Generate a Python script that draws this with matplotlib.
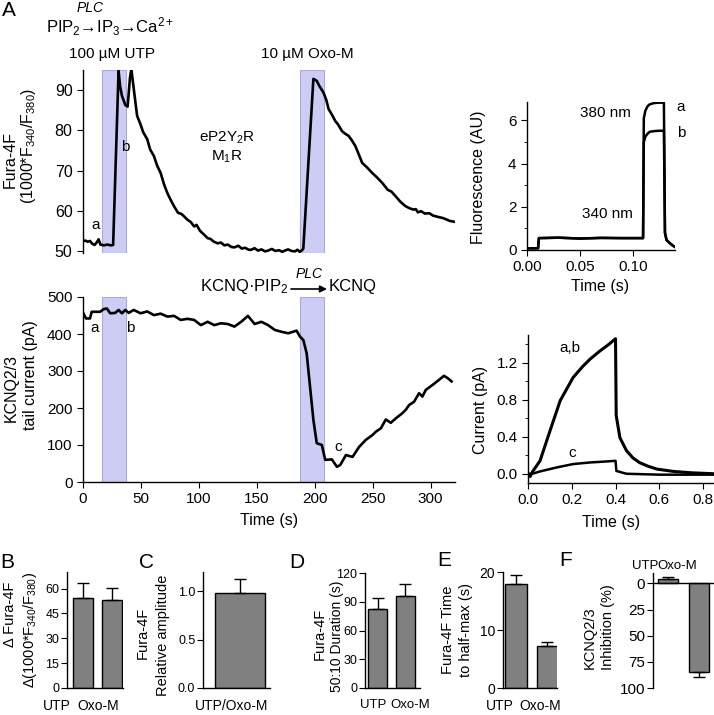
import matplotlib
matplotlib.use('Agg')
import matplotlib.pyplot as plt
import matplotlib.transforms as mtransforms
from matplotlib.ticker import MultipleLocator

plt.rcParams['font.family'] = ['Liberation Sans', 'DejaVu Sans']
plt.rcParams['mathtext.fontset'] = 'custom'
plt.rcParams['mathtext.rm'] = 'Liberation Sans'
plt.rcParams['mathtext.it'] = 'Liberation Sans:italic'
plt.rcParams['axes.linewidth'] = 1.0
plt.rcParams['xtick.major.size'] = 4
plt.rcParams['ytick.major.size'] = 4
plt.rcParams['xtick.minor.size'] = 2.5
plt.rcParams['ytick.minor.size'] = 2.5

W, H = 714, 715

# --- A: Fura-4F ratio over time (s)
fura_t = [0, 2, 4, 6, 8, 10, 12, 13.5, 15, 18, 21, 24, 26, 30.7, 32, 33.6, 36.5, 38.5, 40.5,
          41.7, 43.8, 46.7, 49.6, 52, 55.4, 58, 61.2, 64, 67, 70, 72.8, 76, 78.6, 82, 85,
          87.2, 90, 93, 95.9, 98, 101, 104, 107.5, 110, 113, 116.2, 119, 122, 125, 128,
          130.7, 134, 137, 140, 143, 145.2, 148, 151, 154, 157, 159.7, 163, 166, 169, 172,
          174.2, 177, 180, 182.9, 185, 187, 188.7, 190.1, 198.8, 201.7, 204, 207.5, 210,
          211.9, 215, 217.7, 220, 223.5, 226, 229.3, 232, 235, 238, 240.9, 245, 249.6, 254,
          258.3, 263, 266, 269.8, 274, 278.5, 282, 285, 287.2, 289, 291.6, 295, 298.8, 302,
          306, 310.4, 314, 316.2, 320]
fura_v = [52.4, 52.6, 52.3, 52.5, 51.8, 51.5, 52.2, 52.9, 51.6, 51.4, 51.6, 51.4, 51.5, 94.8,
          91.0, 88.6, 86.3, 85.9, 93.0, 95.3, 90.3, 83.6, 81.5, 79.5, 77.8, 75.2, 73.6, 71.2,
          69.4, 66.5, 64.4, 62.5, 61.1, 59.5, 59.2, 58.6, 57.8, 57.2, 56.1, 56.5, 55.0, 54.2,
          53.2, 53.0, 52.3, 51.9, 52.1, 51.4, 51.6, 51.0, 50.9, 51.3, 50.6, 50.8, 50.3, 50.3,
          50.7, 50.1, 50.4, 49.9, 50.1, 50.5, 50.0, 50.2, 49.8, 50.1, 50.4, 50.0, 49.9, 50.3,
          49.8, 50.1, 50.6, 92.8, 92.3, 91.0, 89.4, 87.5, 85.3, 83.8, 82.3, 81.5, 79.8, 79.2,
          78.6, 77.5, 76.1, 74.0, 71.9, 70.8, 69.4, 68.2, 66.9, 65.2, 64.8, 63.6, 62.2, 61.1,
          60.6, 60.3, 60.4, 59.6, 59.9, 59.3, 59.4, 58.8, 58.5, 58.2, 57.8, 57.5, 57.3]

# --- A: KCNQ2/3 tail current (pA) over time (s)
kcnq_t = [0.3, 2.6, 6, 7.5, 14.8, 17.7, 20.6, 23.5, 27.8, 30.7, 33.6, 36.5, 39.4, 43.8, 49.6,
          55.4, 61.2, 67, 72.8, 78.6, 84.3, 90.1, 95.9, 101.7, 107.5, 113.3, 119.1, 124.9,
          130.7, 136.5, 142.3, 148.1, 153.9, 159.7, 165.5, 171.3, 177.1, 184.3, 187.2, 190.1,
          193, 195.9, 198.8, 201.7, 206.1, 209, 214.8, 219.1, 222, 226.9, 230, 232.6, 238.3,
          244.1, 249.8, 252.7, 257, 261.3, 265.6, 269.9, 275.6, 278.5, 281.4, 285.7, 290,
          292.9, 295.8, 301.5, 307.2, 311.5, 315, 318]
kcnq_v = [456, 442, 442, 460, 460, 467, 469, 456, 457, 465, 456, 465, 457, 465, 456, 461, 451,
          455, 447, 449, 438, 441, 438, 424, 433, 424, 429, 427, 420, 433, 449, 427, 433, 424,
          411, 406, 402, 409, 393, 384, 348, 258, 168, 105, 100, 60, 61, 41, 46, 73, 70, 68, 95,
          114, 127, 136, 145, 169, 160, 172, 186, 195, 208, 217, 240, 231, 249, 262, 276, 287,
          280, 272]

# drug application windows (s)
utp_win = (16.5, 37)
oxo_win = (187, 208)

# --- A right: fluorescence at 340/380 nm, traces a and b
fl_t = [0.0, 0.0105, 0.0112, 0.03, 0.05, 0.07, 0.09, 0.1098, 0.1105, 0.112, 0.114, 0.116,
        0.120, 0.125, 0.1295, 0.1305, 0.132, 0.135, 0.138, 0.140]
fl_a = [0.08, 0.08, 0.55, 0.57, 0.53, 0.56, 0.55, 0.55, 6.1, 6.45, 6.65, 6.74, 6.8, 6.82,
        6.82, 0.8, 0.46, 0.32, 0.2, 0.14]
fl_b = [0.08, 0.08, 0.55, 0.57, 0.53, 0.56, 0.55, 0.55, 5.0, 5.25, 5.38, 5.47, 5.5, 5.52,
        5.52, 0.8, 0.46, 0.32, 0.2, 0.14]

# --- A right: KCNQ current traces a,b and c
cur_t_ab = [0, 0.01, 0.02, 0.055, 0.1, 0.147, 0.206, 0.25, 0.284, 0.33, 0.37, 0.4, 0.403,
            0.42, 0.45, 0.48, 0.51, 0.55, 0.59, 0.665, 0.75, 0.85]
cur_ab = [0.0, -0.03, 0.02, 0.14, 0.46, 0.79, 1.04, 1.16, 1.24, 1.33, 1.4, 1.46, 0.63, 0.39,
          0.25, 0.17, 0.12, 0.08, 0.05, 0.025, 0.01, 0.0]
cur_t_c = [0, 0.02, 0.055, 0.131, 0.207, 0.284, 0.36, 0.4, 0.404, 0.45, 0.6, 0.85]
cur_c = [0.0, 0.0, 0.025, 0.068, 0.105, 0.122, 0.133, 0.14, 0.03, 0.0, -0.01, -0.01]

# --- B-F: summary bars
groups = ['UTP', 'Oxo-M']
d_fura = [54.5, 53.1]
d_fura_err = [8.7, 7.1]
rel_amp = [0.98]
rel_amp_err = [0.15]
duration = [82, 96]
duration_err = [12, 12.5]
half_max = [18.0, 7.2]
half_max_err = [1.5, 0.8]
inhibition = [-4, 84.5]
inhibition_err = [2.5, 5]

fig = plt.figure(figsize=(W / 100, H / 100), dpi=100)


def box(l, t, r, b):
    return [l / W, 1 - b / H, (r - l) / W, (b - t) / H]


band = dict(facecolor='#ccccf5', edgecolor='#aaaadd', lw=0.8, zorder=0)

# top-left: Fura-4F
ax1 = fig.add_axes(box(83, 70, 455, 253))
ax1.axvspan(*utp_win, **band)
ax1.axvspan(*oxo_win, **band)
ax1.plot(fura_t, fura_v, color='k', lw=1.9)
ax1.set_xlim(0, 321)
ax1.set_ylim(49.5, 95)
ax1.set_yticks([50, 60, 70, 80, 90])
ax1.set_xticks([])
for s in ['top', 'right', 'bottom']:
    ax1.spines[s].set_visible(False)
ax1.tick_params(labelsize=11.5)

# bottom-left: KCNQ tail current
ax2 = fig.add_axes(box(83, 297, 455, 482))
ax2.axvspan(*utp_win, **band)
ax2.axvspan(*oxo_win, **band)
ax2.plot(kcnq_t, kcnq_v, color='k', lw=1.9)
ax2.set_xlim(0, 321)
ax2.set_ylim(0, 500)
ax2.set_yticks(range(0, 501, 100))
ax2.set_xticks(range(0, 301, 50))
for s in ['top', 'right']:
    ax2.spines[s].set_visible(False)
ax2.tick_params(labelsize=11)

# top-right: fluorescence
ax3 = fig.add_axes(box(527, 102, 675, 250))
ax3.plot(fl_t, fl_a, color='k', lw=1.8)
ax3.plot(fl_t, fl_b, color='k', lw=1.8)
ax3.set_xlim(0, 0.14)
ax3.set_ylim(0, 6.85)
ax3.set_yticks([0, 2, 4, 6])
ax3.yaxis.set_minor_locator(MultipleLocator(1))
ax3.set_xticks([0, 0.05, 0.10])
ax3.set_xticklabels(['0.00', '0.05', '0.10'])
for s in ['top', 'right']:
    ax3.spines[s].set_visible(False)
ax3.tick_params(labelsize=11)

# bottom-right: current
ax4 = fig.add_axes(box(528, 335, 714, 483))
ax4.plot(cur_t_ab, cur_ab, color='k', lw=2.2)
ax4.plot(cur_t_c, cur_c, color='k', lw=1.8)
ax4.set_xlim(0, 0.85)
ax4.set_ylim(-0.1, 1.5)
ax4.set_yticks([0.0, 0.4, 0.8, 1.2])
ax4.yaxis.set_minor_locator(MultipleLocator(0.2))
ax4.set_xticks([0.0, 0.2, 0.4, 0.6, 0.8])
ax4.set_xticklabels(['0.0', '0.2', '0.4', '0.6', '0.8'])
ax4.set_yticklabels(['0.0', '0.4', '0.8', '1.2'])
for s in ['top', 'right']:
    ax4.spines[s].set_visible(False)
ax4.tick_params(labelsize=11)


def shift_labels(ax, offsets, top=False):
    for tick, dx in zip(ax.xaxis.get_major_ticks(), offsets):
        lab = tick.label2 if top else tick.label1
        lab.set_transform(lab.get_transform() +
                          mtransforms.ScaledTranslation(dx / 100, 0, fig.dpi_scale_trans))


def bar_panel(rect, vals, errs, labels, width, xlim, ylim, yticks, tsize, lsize, offsets,
              ytl=None, top=False):
    ax = fig.add_axes(rect)
    x = list(range(len(vals)))
    lo = [e if v < 0 else 0 for v, e in zip(vals, errs)]
    hi = [0 if v < 0 else e for v, e in zip(vals, errs)]
    ax.bar(x, vals, width, color='#808080', edgecolor='k', lw=1.0,
           yerr=[lo, hi], capsize=4, error_kw=dict(elinewidth=1.0, capthick=1.0))
    ax.set_xlim(*xlim)
    ax.set_ylim(*ylim)
    ax.set_yticks(yticks)
    if ytl is not None:
        ax.set_yticklabels(ytl)
    if top:
        ax.xaxis.tick_top()
        ax.spines['bottom'].set_visible(False)
        ax.axhline(0, color='k', lw=1.0)
    else:
        ax.spines['top'].set_visible(False)
    ax.set_xticks(x)
    ax.set_xticklabels(labels)
    ax.tick_params(axis='x', length=0, labelsize=lsize, pad=1 if top else 8)
    ax.tick_params(axis='y', labelsize=tsize, pad=1.5)
    ax.spines['right'].set_visible(False)
    if top:
        ax.spines['top'].set_visible(False)
    shift_labels(ax, offsets, top)
    return ax


bar_panel(box(67, 572, 123, 688), d_fura, d_fura_err, groups, 0.69, (-0.55, 1.38), (0, 70),
          [0, 15, 30, 45, 60], 9, 10, [-26, -14])
bar_panel(box(203, 572, 270, 688), rel_amp, rel_amp_err, ['UTP/Oxo-M'], 1.0, (-0.74, 0.6),
          (0, 1.2), [0, 0.5, 1.0], 9, 10, [-8], ytl=['0.0', '0.5', '1.0'])
bar_panel(box(365, 573, 420, 688), duration, duration_err, groups, 0.68, (-0.45, 1.52),
          (0, 120), [0, 30, 60, 90, 120], 9, 9.5, [-4, 5])
bar_panel(box(503, 572, 557, 688), half_max, half_max_err, groups, 0.68, (-0.42, 1.32),
          (0, 20), [0, 10, 20], 10, 10, [-16, -7])
bar_panel(box(653, 573, 714, 688), inhibition, inhibition_err, groups, 0.65,
          (-0.48, 1.48), (100, -10), [0, 25, 50, 75, 100], 11, 9.5, [-23, -22], top=True)

# overlay for free text in pixel coordinates
ov = fig.add_axes([0, 0, 1, 1], zorder=10)
ov.set_xlim(0, W)
ov.set_ylim(H, 0)
ov.axis('off')
ov.patch.set_alpha(0)


def T(x, y, s, size=11, **kw):
    kw.setdefault('ha', 'center')
    kw.setdefault('va', 'center')
    ov.text(x, y, s, fontsize=size, **kw)


# panel letters
T(9, 11, 'A', 15)
for lx, ly, L in [(7, 562, 'B'), (147, 562, 'C'), (297, 562, 'D'), (444, 561, 'E'),
                  (566, 561, 'F')]:
    T(lx, ly, L, 15)

# pathway annotations
T(90, 8, 'PLC', 10, style='italic')
T(110, 27, 'PIP$_2$→IP$_3$→Ca$^{2+}$', 12)
T(112, 54, '100 µM UTP', 11)
T(307, 54, '10 µM Oxo-M', 11)
T(227, 138, 'eP2Y$_2$R', 11)
T(227, 157, 'M$_1$R', 11)
T(96, 225, 'a', 11)
T(125, 147, 'b', 11)
T(95, 328, 'a', 11)
T(130, 328, 'b', 11)
T(338, 447, 'c', 11)

T(288, 287, 'KCNQ·PIP$_2$', 12, ha='right')
T(329, 287, 'KCNQ', 12, ha='left')
T(309, 274, 'PLC', 10, style='italic')
ov.annotate('', xy=(327, 289), xytext=(291, 289),
            arrowprops=dict(arrowstyle='-|>', color='k', lw=1.2, mutation_scale=10,
                            shrinkA=0, shrinkB=0))

T(605, 113, '380 nm', 11)
T(607, 214, '340 nm', 11)
T(681, 107, 'a', 11)
T(681, 133, 'b', 11)
T(570, 348, 'a,b', 11)
T(572, 453, 'c', 11)

# axis labels
T(10, 160, 'Fura-4F', 11.5, rotation=90)
T(28, 146, '(1000*F$_{340}$/F$_{380}$)', 11.5, rotation=90)
T(11, 388, 'KCNQ2/3', 11.5, rotation=90)
T(30, 375, 'tail current (pA)', 11.5, rotation=90)
T(269, 520, 'Time (s)', 11.5)
T(478, 177, 'Fluorescence (AU)', 11.5, rotation=90)
T(600, 287, 'Time (s)', 11.5)
T(480, 410, 'Current (pA)', 11.5, rotation=90)
T(611, 522, 'Time (s)', 11.5)

T(10, 614, 'Δ Fura-4F', 10.5, rotation=90)
T(30, 630, 'Δ(1000*F$_{340}$/F$_{380}$)', 10.5, rotation=90)
T(143, 633, 'Fura-4F', 10.5, rotation=90)
T(163, 635, 'Relative amplitude', 10.5, rotation=90)
T(320, 634, 'Fura-4F', 10.5, rotation=90)
T(337, 636, '50:10 Duration (s)', 10, rotation=90)
T(448, 630, 'Fura-4F Time', 10.5, rotation=90)
T(466, 630, 'to half-max (s)', 10.5, rotation=90)
T(590, 638, 'KCNQ2/3', 10.5, rotation=90)
T(608, 627, 'Inhibition (%)', 10.5, rotation=90)

fig.savefig('out.png', dpi=100)
